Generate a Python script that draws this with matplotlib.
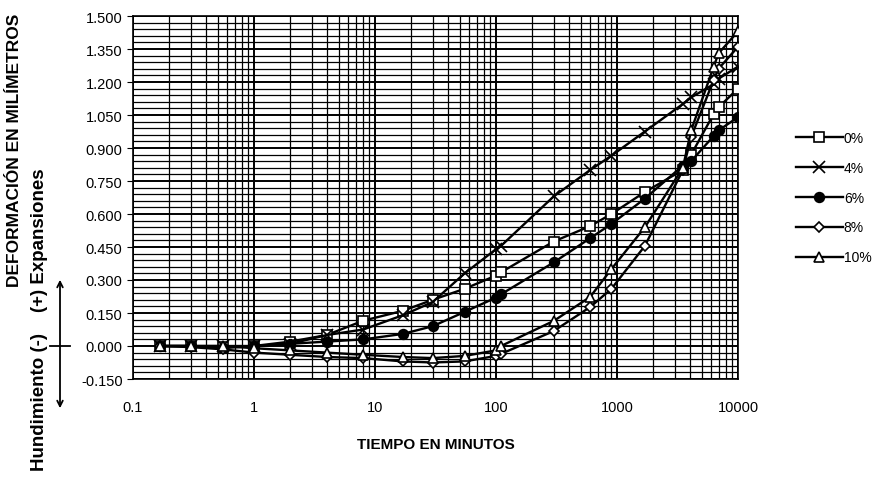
import matplotlib
matplotlib.use("Agg")
import matplotlib.pyplot as plt
from matplotlib.ticker import FixedLocator, MultipleLocator, NullFormatter, FuncFormatter

plt.rcParams['font.family'] = ['Liberation Sans', 'DejaVu Sans']

# tiempo en minutos
tiempo = [0.167, 0.3, 0.55, 1, 2, 4, 8, 17, 30, 55, 100, 110,
          300, 600, 900, 1700, 3500, 4100, 6300, 6900, 10000]

# deformacion (mm) por porcentaje
d0 = [0, 0, -0.005, 0, 0.02, 0.05, 0.115, 0.16, 0.21, 0.26, 0.32, 0.335,
      0.475, 0.545, 0.60, 0.70, 0.80, 0.87, 1.055, 1.085, 1.17]
d4 = [0, 0, 0, 0, 0.01, 0.05, 0.075, 0.14, 0.20, 0.33, 0.44, 0.455,
      0.68, 0.80, 0.865, 0.975, 1.10, 1.13, 1.19, 1.215, 1.27]
d6 = [0, 0, -0.01, 0, 0.01, 0.02, 0.03, 0.055, 0.09, 0.155, 0.22, 0.235,
      0.38, 0.49, 0.555, 0.67, 0.82, 0.84, 0.955, 0.98, 1.04]
d8 = [0, -0.005, -0.015, -0.03, -0.04, -0.05, -0.055, -0.07, -0.075, -0.07, -0.045, -0.036,
      0.068, 0.177, 0.26, 0.455, 0.80, 0.95, 1.21, 1.26, 1.36]
d10 = [0, 0, 0, -0.01, -0.02, -0.03, -0.04, -0.05, -0.055, -0.045, -0.02, 0.0,
       0.114, 0.223, 0.35, 0.54, 0.81, 0.98, 1.27, 1.33, 1.43]

series = [d0, d4, d6, d8, d10]
labels = ['0%', '4%', '6%', '8%', '10%']
markers = ['s', 'x', 'o', 'D', '^']
msizes = [7, 8, 7, 5.5, 6.5]
fills = ['white', 'black', 'black', 'white', 'white']

xticks = [0.1, 1, 10, 100, 1000, 10000]
xticklabels = ['0.1', '1', '10', '100', '1000', '10000']

fig = plt.figure(figsize=(8.74, 4.89), dpi=100)
ax = fig.add_axes([133/874, 1 - 380/489, (738 - 133)/874, (380 - 17)/489])

ax.set_xscale('log')
ax.set_xlim(0.1, 10000)
ax.set_ylim(-0.15, 1.5)

ax.xaxis.set_major_locator(FixedLocator(xticks))
ax.set_xticks(xticks)
ax.set_xticklabels(xticklabels)
ax.xaxis.set_minor_formatter(NullFormatter())
ax.yaxis.set_major_locator(MultipleLocator(0.15))
ax.yaxis.set_minor_locator(MultipleLocator(0.03))
ax.yaxis.set_major_formatter(FuncFormatter(lambda v, p: '%.3f' % v))

ax.grid(True, which='major', color='black', lw=1.4)
ax.grid(True, which='minor', color='black', lw=0.9)
ax.set_axisbelow(True)

for d, lab, mk, ms, fc in zip(series, labels, markers, msizes, fills):
    ax.plot(tiempo, d, color='black', lw=1.7, marker=mk, markersize=ms,
            markerfacecolor=fc, markeredgecolor='black', markeredgewidth=1.2,
            label=lab, zorder=3)

ax.tick_params(axis='x', which='both', length=0, pad=15, labelsize=10.5)
ax.tick_params(axis='y', which='major', length=4, direction='out', labelsize=10.5)
ax.tick_params(axis='y', which='minor', length=0)
for s in ax.spines.values():
    s.set_linewidth(1.2)

ax.set_xlabel('TIEMPO EN MINUTOS', fontsize=11, fontweight='bold', labelpad=17)

fig.text(15/874, 1 - 150/489, 'DEFORMACIÓN EN MILÍMETROS', rotation=90,
         fontsize=12.5, fontweight='bold', ha='center', va='center')
fig.text(39/874, 1 - 333/489, 'Hundimiento (-)', rotation=90,
         fontsize=13.5, fontweight='bold', ha='center', va='top')
fig.text(39/874, 1 - 312/489, '(+) Expansiones', rotation=90,
         fontsize=13.5, fontweight='bold', ha='center', va='bottom')
ax.annotate('', xy=(60/874, 1 - 278/489), xytext=(60/874, 1 - 412/489),
            xycoords='figure fraction', textcoords='figure fraction',
            arrowprops=dict(arrowstyle='<->', color='black', lw=1.3))
ax.plot([50/874, 70/874], [1 - 347/489, 1 - 347/489], color='black', lw=1.3,
        transform=fig.transFigure, clip_on=False)

ax.legend(loc='center left', bbox_to_anchor=(1.075, 0.5), frameon=False,
          handlelength=3.4, handletextpad=0.05, labelspacing=1.15, fontsize=10)

fig.savefig('out.png', dpi=100)
